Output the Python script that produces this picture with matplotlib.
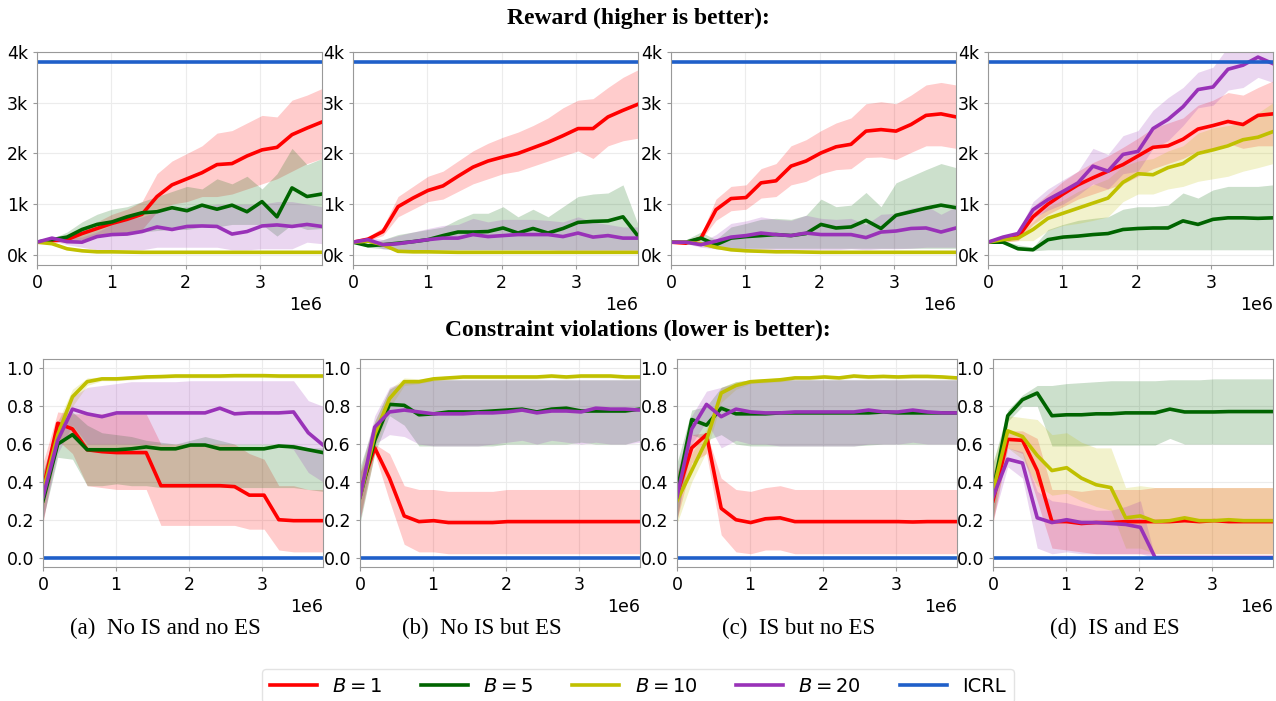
import numpy as np
import matplotlib
matplotlib.use("Agg")
import matplotlib.pyplot as plt
from matplotlib.ticker import FuncFormatter

# training steps (20 evaluation points)
steps = np.arange(20) * 202000

ICRL_REWARD = 3.8  # in k
ICRL_VIOL = 0.0

# ---------------- reward (in thousands) ----------------
# (a) No IS and no ES
ra_1 = [0.25, 0.28, 0.30, 0.42, 0.52, 0.62, 0.70, 0.80, 1.15, 1.38, 1.50, 1.62, 1.78, 1.80, 1.95, 2.07, 2.12, 2.37, 2.50, 2.62]
ra_1_lo = [0.25, 0.25, 0.25, 0.30, 0.35, 0.40, 0.45, 0.50, 0.85, 1.00, 1.05, 1.15, 1.15, 1.20, 1.30, 1.40, 1.50, 1.65, 1.80, 1.90]
ra_1_hi = [0.25, 0.30, 0.35, 0.50, 0.65, 0.80, 0.90, 1.05, 1.60, 1.85, 2.00, 2.15, 2.40, 2.45, 2.60, 2.75, 2.72, 3.05, 3.15, 3.28]
ra_5 = [0.25, 0.30, 0.35, 0.50, 0.60, 0.65, 0.75, 0.83, 0.85, 0.93, 0.87, 0.98, 0.90, 0.98, 0.85, 1.05, 0.75, 1.32, 1.15, 1.20]
ra_5_lo = [0.25, 0.28, 0.25, 0.30, 0.35, 0.40, 0.42, 0.45, 0.48, 0.50, 0.50, 0.55, 0.55, 0.60, 0.60, 0.60, 0.37, 0.60, 0.50, 0.52]
ra_5_hi = [0.25, 0.32, 0.45, 0.65, 0.80, 0.90, 0.95, 1.05, 1.15, 1.25, 1.35, 1.30, 1.50, 1.40, 1.55, 1.30, 1.60, 2.10, 1.78, 1.90]
ra_10 = [0.25, 0.22, 0.12, 0.08, 0.06, 0.06, 0.055, 0.05, 0.05, 0.05, 0.05, 0.05, 0.05, 0.05, 0.05, 0.05, 0.05, 0.05, 0.05, 0.05]
ra_10_lo = [0.25, 0.20, 0.10, 0.06, 0.04, 0.04, 0.04, 0.035, 0.035, 0.035, 0.035, 0.035, 0.035, 0.035, 0.035, 0.035, 0.035, 0.035, 0.035, 0.035]
ra_10_hi = [0.25, 0.24, 0.14, 0.10, 0.08, 0.075, 0.07, 0.065, 0.065, 0.065, 0.065, 0.065, 0.065, 0.065, 0.065, 0.065, 0.065, 0.065, 0.065, 0.065]
ra_20 = [0.25, 0.33, 0.26, 0.25, 0.36, 0.40, 0.41, 0.46, 0.55, 0.50, 0.56, 0.57, 0.56, 0.41, 0.46, 0.57, 0.59, 0.56, 0.60, 0.56]
ra_20_lo = [0.25, 0.28, 0.20, 0.15, 0.10, 0.10, 0.10, 0.10, 0.15, 0.15, 0.15, 0.15, 0.15, 0.10, 0.10, 0.12, 0.12, 0.12, 0.25, 0.22]
ra_20_hi = [0.25, 0.35, 0.35, 0.35, 0.45, 0.60, 0.70, 0.75, 0.85, 0.90, 0.95, 0.95, 1.00, 1.00, 1.00, 1.00, 1.05, 1.05, 1.00, 0.95]

# (b) No IS but ES
rb_1 = [0.25, 0.31, 0.46, 0.95, 1.12, 1.27, 1.36, 1.55, 1.73, 1.85, 1.93, 2.00, 2.11, 2.22, 2.35, 2.49, 2.49, 2.72, 2.85, 2.97]
rb_1_lo = [0.25, 0.28, 0.38, 0.75, 0.90, 1.05, 1.10, 1.25, 1.40, 1.50, 1.60, 1.65, 1.75, 1.85, 1.95, 2.05, 1.90, 2.15, 2.25, 2.30]
rb_1_hi = [0.25, 0.35, 0.55, 1.15, 1.35, 1.55, 1.65, 1.85, 2.05, 2.20, 2.32, 2.42, 2.55, 2.70, 2.90, 3.05, 3.08, 3.30, 3.50, 3.65]
rb_5 = [0.25, 0.18, 0.20, 0.23, 0.26, 0.30, 0.38, 0.45, 0.45, 0.46, 0.53, 0.43, 0.52, 0.43, 0.52, 0.64, 0.66, 0.67, 0.75, 0.37]
rb_5_lo = [0.25, 0.15, 0.12, 0.10, 0.10, 0.10, 0.10, 0.10, 0.10, 0.10, 0.10, 0.10, 0.10, 0.10, 0.10, 0.10, 0.10, 0.10, 0.10, 0.10]
rb_5_hi = [0.25, 0.22, 0.30, 0.40, 0.45, 0.50, 0.55, 0.70, 0.82, 0.82, 0.95, 0.75, 0.90, 0.75, 0.95, 1.15, 1.20, 1.22, 1.38, 0.60]
rb_10 = [0.25, 0.27, 0.20, 0.07, 0.06, 0.06, 0.055, 0.05, 0.05, 0.05, 0.05, 0.05, 0.05, 0.05, 0.05, 0.05, 0.05, 0.05, 0.05, 0.05]
rb_10_lo = [0.25, 0.25, 0.17, 0.05, 0.04, 0.04, 0.04, 0.035, 0.035, 0.035, 0.035, 0.035, 0.035, 0.035, 0.035, 0.035, 0.035, 0.035, 0.035, 0.035]
rb_10_hi = [0.25, 0.29, 0.23, 0.09, 0.08, 0.075, 0.07, 0.065, 0.065, 0.065, 0.065, 0.065, 0.065, 0.065, 0.065, 0.065, 0.065, 0.065, 0.065, 0.065]
rb_20 = [0.25, 0.30, 0.20, 0.22, 0.26, 0.30, 0.33, 0.33, 0.40, 0.36, 0.38, 0.40, 0.40, 0.40, 0.36, 0.43, 0.35, 0.38, 0.33, 0.33]
rb_20_lo = [0.25, 0.25, 0.12, 0.10, 0.10, 0.10, 0.10, 0.10, 0.10, 0.10, 0.10, 0.10, 0.10, 0.10, 0.08, 0.08, 0.08, 0.08, 0.08, 0.08]
rb_20_hi = [0.25, 0.35, 0.30, 0.38, 0.45, 0.52, 0.58, 0.60, 0.72, 0.65, 0.70, 0.70, 0.70, 0.68, 0.65, 0.75, 0.65, 0.60, 0.55, 0.55]

# (c) IS but no ES
rc_1 = [0.25, 0.23, 0.33, 0.89, 1.11, 1.13, 1.42, 1.46, 1.75, 1.85, 2.01, 2.13, 2.18, 2.44, 2.47, 2.44, 2.57, 2.75, 2.78, 2.72]
rc_1_lo = [0.25, 0.22, 0.30, 0.68, 0.87, 0.90, 1.12, 1.15, 1.38, 1.45, 1.60, 1.68, 1.70, 1.92, 1.93, 1.88, 2.02, 2.15, 2.15, 2.10]
rc_1_hi = [0.25, 0.25, 0.40, 1.10, 1.35, 1.38, 1.70, 1.80, 2.15, 2.27, 2.45, 2.60, 2.70, 2.98, 3.02, 2.98, 3.15, 3.35, 3.40, 3.35]
rc_5 = [0.25, 0.25, 0.33, 0.20, 0.33, 0.36, 0.38, 0.40, 0.38, 0.42, 0.60, 0.53, 0.55, 0.68, 0.52, 0.78, 0.85, 0.92, 0.98, 0.93]
rc_5_lo = [0.25, 0.22, 0.20, 0.12, 0.12, 0.13, 0.13, 0.13, 0.13, 0.13, 0.13, 0.13, 0.13, 0.13, 0.13, 0.13, 0.13, 0.13, 0.13, 0.13]
rc_5_hi = [0.25, 0.30, 0.45, 0.30, 0.55, 0.62, 0.70, 0.72, 0.70, 0.78, 1.10, 0.95, 0.98, 1.23, 0.95, 1.42, 1.55, 1.68, 1.80, 1.72]
rc_10 = [0.25, 0.25, 0.22, 0.15, 0.10, 0.08, 0.07, 0.06, 0.06, 0.055, 0.05, 0.05, 0.05, 0.05, 0.05, 0.05, 0.05, 0.05, 0.05, 0.05]
rc_10_lo = [0.25, 0.23, 0.19, 0.12, 0.08, 0.06, 0.05, 0.045, 0.045, 0.04, 0.035, 0.035, 0.035, 0.035, 0.035, 0.035, 0.035, 0.035, 0.035, 0.035]
rc_10_hi = [0.25, 0.27, 0.25, 0.18, 0.12, 0.10, 0.09, 0.075, 0.075, 0.07, 0.065, 0.065, 0.065, 0.065, 0.065, 0.065, 0.065, 0.065, 0.065, 0.065]
rc_20 = [0.25, 0.25, 0.20, 0.27, 0.35, 0.38, 0.43, 0.40, 0.38, 0.43, 0.40, 0.40, 0.40, 0.34, 0.45, 0.47, 0.52, 0.53, 0.45, 0.53]
rc_20_lo = [0.25, 0.22, 0.15, 0.12, 0.10, 0.10, 0.10, 0.10, 0.10, 0.10, 0.10, 0.10, 0.12, 0.10, 0.12, 0.12, 0.13, 0.15, 0.15, 0.15]
rc_20_hi = [0.25, 0.28, 0.25, 0.40, 0.62, 0.67, 0.75, 0.70, 0.68, 0.78, 0.72, 0.70, 0.72, 0.60, 0.80, 0.82, 0.92, 0.97, 0.80, 0.95]

# (d) IS and ES
rd_1 = [0.25, 0.30, 0.35, 0.75, 1.00, 1.20, 1.38, 1.52, 1.65, 1.78, 1.95, 2.12, 2.15, 2.28, 2.48, 2.55, 2.63, 2.57, 2.75, 2.78]
rd_1_lo = [0.25, 0.25, 0.28, 0.60, 0.80, 0.95, 1.10, 1.20, 1.30, 1.40, 1.55, 1.70, 1.80, 1.90, 2.05, 2.10, 2.20, 2.10, 2.15, 2.15]
rd_1_hi = [0.25, 0.35, 0.42, 0.95, 1.20, 1.45, 1.65, 1.82, 1.95, 2.12, 2.30, 2.50, 2.60, 2.70, 2.95, 3.05, 3.20, 3.15, 3.30, 3.43]
rd_5 = [0.25, 0.25, 0.12, 0.10, 0.30, 0.35, 0.37, 0.40, 0.42, 0.50, 0.52, 0.53, 0.53, 0.67, 0.60, 0.70, 0.73, 0.73, 0.72, 0.73]
rd_5_lo = [0.25, 0.22, 0.10, 0.08, 0.10, 0.10, 0.10, 0.10, 0.10, 0.10, 0.10, 0.10, 0.10, 0.10, 0.10, 0.10, 0.10, 0.10, 0.10, 0.10]
rd_5_hi = [0.25, 0.28, 0.20, 0.15, 0.50, 0.60, 0.68, 0.72, 0.75, 0.90, 0.95, 0.95, 0.98, 1.22, 1.12, 1.28, 1.35, 1.35, 1.35, 1.38]
rd_10 = [0.25, 0.30, 0.33, 0.50, 0.72, 0.82, 0.92, 1.02, 1.12, 1.43, 1.60, 1.58, 1.72, 1.80, 2.00, 2.07, 2.15, 2.27, 2.32, 2.43]
rd_10_lo = [0.25, 0.25, 0.28, 0.28, 0.48, 0.58, 0.62, 0.68, 0.75, 1.05, 1.20, 1.20, 1.30, 1.35, 1.45, 1.50, 1.55, 1.65, 1.72, 1.80]
rd_10_hi = [0.25, 0.38, 0.40, 0.65, 0.95, 1.08, 1.25, 1.38, 1.50, 1.75, 1.85, 1.90, 2.05, 2.15, 2.40, 2.50, 2.55, 2.60, 2.80, 3.00]
rd_20 = [0.25, 0.35, 0.42, 0.89, 1.09, 1.25, 1.42, 1.75, 1.65, 1.98, 2.04, 2.49, 2.67, 2.92, 3.26, 3.31, 3.66, 3.74, 3.90, 3.77]
rd_20_lo = [0.25, 0.30, 0.38, 0.72, 0.88, 1.00, 1.18, 1.40, 1.30, 1.60, 1.65, 2.10, 2.25, 2.55, 2.90, 2.95, 3.25, 3.30, 3.50, 3.40]
rd_20_hi = [0.25, 0.38, 0.45, 1.05, 1.30, 1.48, 1.65, 2.10, 1.98, 2.35, 2.45, 2.85, 3.10, 3.30, 3.60, 3.70, 4.10, 4.20, 4.30, 4.30]

# ---------------- constraint violations ----------------
# (a)
va_1 = [0.36, 0.71, 0.68, 0.57, 0.56, 0.555, 0.555, 0.555, 0.38, 0.38, 0.38, 0.38, 0.38, 0.375, 0.33, 0.33, 0.20, 0.195, 0.195, 0.195]
va_1_lo = [0.18, 0.62, 0.55, 0.38, 0.37, 0.36, 0.36, 0.36, 0.17, 0.17, 0.17, 0.17, 0.17, 0.17, 0.15, 0.15, 0.04, 0.03, 0.03, 0.03]
va_1_hi = [0.50, 0.77, 0.76, 0.76, 0.76, 0.76, 0.76, 0.76, 0.60, 0.60, 0.60, 0.60, 0.60, 0.60, 0.55, 0.52, 0.38, 0.38, 0.36, 0.36]
va_5 = [0.30, 0.60, 0.65, 0.57, 0.57, 0.57, 0.575, 0.585, 0.575, 0.575, 0.595, 0.595, 0.575, 0.575, 0.575, 0.575, 0.59, 0.585, 0.57, 0.555]
va_5_lo = [0.20, 0.53, 0.52, 0.38, 0.38, 0.39, 0.38, 0.38, 0.37, 0.37, 0.37, 0.37, 0.37, 0.37, 0.37, 0.37, 0.37, 0.37, 0.36, 0.35]
va_5_hi = [0.45, 0.70, 0.77, 0.70, 0.66, 0.65, 0.64, 0.62, 0.61, 0.60, 0.62, 0.64, 0.62, 0.60, 0.60, 0.60, 0.60, 0.60, 0.58, 0.58]
va_10 = [0.35, 0.65, 0.85, 0.93, 0.945, 0.945, 0.95, 0.955, 0.957, 0.96, 0.96, 0.96, 0.96, 0.962, 0.962, 0.962, 0.96, 0.96, 0.96, 0.96]
va_10_lo = [0.25, 0.58, 0.80, 0.91, 0.935, 0.935, 0.94, 0.945, 0.947, 0.95, 0.95, 0.95, 0.95, 0.952, 0.952, 0.952, 0.95, 0.95, 0.95, 0.95]
va_10_hi = [0.45, 0.72, 0.89, 0.95, 0.955, 0.955, 0.96, 0.965, 0.967, 0.97, 0.97, 0.97, 0.97, 0.972, 0.972, 0.972, 0.97, 0.97, 0.97, 0.97]
va_20 = [0.32, 0.62, 0.785, 0.76, 0.745, 0.765, 0.765, 0.765, 0.765, 0.765, 0.765, 0.765, 0.79, 0.76, 0.765, 0.765, 0.765, 0.77, 0.66, 0.595]
va_20_lo = [0.20, 0.55, 0.70, 0.60, 0.60, 0.60, 0.60, 0.60, 0.60, 0.60, 0.60, 0.60, 0.60, 0.60, 0.60, 0.60, 0.60, 0.57, 0.45, 0.40]
va_20_hi = [0.45, 0.72, 0.85, 0.90, 0.91, 0.92, 0.93, 0.93, 0.93, 0.93, 0.935, 0.935, 0.935, 0.935, 0.935, 0.935, 0.935, 0.935, 0.83, 0.80]

# (b)
vb_1 = [0.35, 0.58, 0.42, 0.22, 0.19, 0.195, 0.185, 0.185, 0.185, 0.185, 0.19, 0.19, 0.19, 0.19, 0.19, 0.19, 0.19, 0.19, 0.19, 0.19]
vb_1_lo = [0.20, 0.55, 0.30, 0.07, 0.03, 0.03, 0.02, 0.02, 0.02, 0.02, 0.02, 0.02, 0.02, 0.02, 0.02, 0.02, 0.02, 0.02, 0.02, 0.02]
vb_1_hi = [0.45, 0.60, 0.55, 0.38, 0.36, 0.36, 0.35, 0.35, 0.35, 0.35, 0.36, 0.36, 0.36, 0.36, 0.36, 0.36, 0.36, 0.36, 0.36, 0.36]
vb_5 = [0.32, 0.62, 0.81, 0.805, 0.755, 0.76, 0.77, 0.77, 0.77, 0.775, 0.78, 0.785, 0.77, 0.785, 0.79, 0.775, 0.775, 0.775, 0.775, 0.785]
vb_5_lo = [0.18, 0.55, 0.75, 0.70, 0.59, 0.59, 0.59, 0.59, 0.59, 0.59, 0.60, 0.60, 0.60, 0.60, 0.60, 0.61, 0.60, 0.60, 0.60, 0.62]
vb_5_hi = [0.48, 0.72, 0.89, 0.93, 0.93, 0.94, 0.94, 0.94, 0.94, 0.94, 0.94, 0.94, 0.94, 0.94, 0.94, 0.94, 0.94, 0.94, 0.94, 0.94]
vb_10 = [0.32, 0.65, 0.84, 0.93, 0.93, 0.945, 0.95, 0.955, 0.955, 0.955, 0.955, 0.955, 0.955, 0.96, 0.955, 0.96, 0.96, 0.96, 0.955, 0.955]
vb_10_lo = [0.22, 0.58, 0.79, 0.91, 0.92, 0.935, 0.94, 0.945, 0.945, 0.945, 0.945, 0.945, 0.945, 0.95, 0.945, 0.95, 0.95, 0.95, 0.945, 0.945]
vb_10_hi = [0.45, 0.72, 0.89, 0.95, 0.945, 0.955, 0.96, 0.965, 0.965, 0.965, 0.965, 0.965, 0.965, 0.97, 0.965, 0.97, 0.97, 0.97, 0.965, 0.965]
vb_20 = [0.32, 0.69, 0.77, 0.78, 0.77, 0.76, 0.76, 0.76, 0.765, 0.765, 0.77, 0.78, 0.765, 0.775, 0.775, 0.77, 0.79, 0.785, 0.785, 0.78]
vb_20_lo = [0.20, 0.60, 0.65, 0.64, 0.60, 0.59, 0.59, 0.59, 0.59, 0.60, 0.61, 0.62, 0.60, 0.62, 0.61, 0.60, 0.61, 0.60, 0.60, 0.61]
vb_20_hi = [0.45, 0.75, 0.90, 0.93, 0.93, 0.94, 0.94, 0.94, 0.94, 0.94, 0.94, 0.94, 0.94, 0.94, 0.94, 0.94, 0.94, 0.94, 0.94, 0.94]

# (c)
vc_1 = [0.33, 0.58, 0.65, 0.26, 0.20, 0.185, 0.205, 0.21, 0.19, 0.19, 0.19, 0.19, 0.19, 0.19, 0.19, 0.19, 0.188, 0.19, 0.19, 0.19]
vc_1_lo = [0.20, 0.50, 0.55, 0.12, 0.03, 0.02, 0.04, 0.04, 0.02, 0.02, 0.02, 0.02, 0.02, 0.02, 0.02, 0.02, 0.02, 0.02, 0.02, 0.02]
vc_1_hi = [0.45, 0.65, 0.66, 0.42, 0.36, 0.35, 0.37, 0.38, 0.36, 0.36, 0.36, 0.36, 0.36, 0.36, 0.36, 0.36, 0.36, 0.36, 0.36, 0.36]
vc_5 = [0.35, 0.73, 0.70, 0.79, 0.76, 0.76, 0.76, 0.765, 0.765, 0.765, 0.765, 0.765, 0.765, 0.765, 0.77, 0.765, 0.765, 0.765, 0.765, 0.765]
vc_5_lo = [0.20, 0.65, 0.62, 0.65, 0.60, 0.59, 0.59, 0.59, 0.59, 0.59, 0.59, 0.59, 0.59, 0.595, 0.60, 0.60, 0.60, 0.60, 0.60, 0.60]
vc_5_hi = [0.50, 0.78, 0.80, 0.90, 0.93, 0.94, 0.94, 0.94, 0.94, 0.94, 0.94, 0.94, 0.94, 0.94, 0.94, 0.94, 0.94, 0.94, 0.94, 0.94]
vc_10 = [0.30, 0.46, 0.62, 0.87, 0.91, 0.93, 0.935, 0.94, 0.95, 0.95, 0.955, 0.95, 0.96, 0.955, 0.958, 0.955, 0.958, 0.958, 0.955, 0.95]
vc_10_lo = [0.18, 0.40, 0.56, 0.82, 0.89, 0.92, 0.925, 0.93, 0.94, 0.94, 0.945, 0.94, 0.95, 0.945, 0.948, 0.945, 0.948, 0.948, 0.945, 0.94]
vc_10_hi = [0.45, 0.55, 0.68, 0.90, 0.93, 0.94, 0.945, 0.95, 0.96, 0.96, 0.965, 0.96, 0.97, 0.965, 0.968, 0.965, 0.968, 0.968, 0.965, 0.96]
vc_20 = [0.32, 0.68, 0.81, 0.745, 0.785, 0.77, 0.765, 0.765, 0.77, 0.77, 0.77, 0.77, 0.77, 0.78, 0.77, 0.77, 0.78, 0.77, 0.765, 0.765]
vc_20_lo = [0.20, 0.60, 0.72, 0.58, 0.62, 0.60, 0.60, 0.59, 0.59, 0.59, 0.59, 0.59, 0.59, 0.60, 0.60, 0.60, 0.61, 0.60, 0.60, 0.60]
vc_20_hi = [0.45, 0.75, 0.88, 0.90, 0.92, 0.93, 0.935, 0.94, 0.94, 0.94, 0.94, 0.94, 0.94, 0.94, 0.94, 0.94, 0.94, 0.94, 0.94, 0.94]

# (d)
vd_1 = [0.30, 0.625, 0.62, 0.46, 0.19, 0.19, 0.18, 0.185, 0.185, 0.19, 0.19, 0.19, 0.19, 0.195, 0.19, 0.195, 0.19, 0.19, 0.19, 0.19]
vd_1_lo = [0.18, 0.58, 0.55, 0.30, 0.05, 0.04, 0.03, 0.02, 0.02, 0.02, 0.02, 0.02, 0.02, 0.02, 0.02, 0.02, 0.02, 0.02, 0.02, 0.02]
vd_1_hi = [0.45, 0.67, 0.67, 0.63, 0.36, 0.36, 0.35, 0.36, 0.36, 0.36, 0.36, 0.37, 0.37, 0.37, 0.37, 0.37, 0.37, 0.37, 0.37, 0.37]
vd_5 = [0.35, 0.75, 0.835, 0.87, 0.75, 0.755, 0.755, 0.76, 0.76, 0.765, 0.765, 0.765, 0.785, 0.77, 0.77, 0.77, 0.772, 0.772, 0.772, 0.772]
vd_5_lo = [0.20, 0.72, 0.80, 0.80, 0.59, 0.59, 0.59, 0.595, 0.595, 0.595, 0.595, 0.595, 0.63, 0.60, 0.60, 0.60, 0.60, 0.60, 0.60, 0.60]
vd_5_hi = [0.50, 0.78, 0.86, 0.91, 0.91, 0.92, 0.925, 0.93, 0.935, 0.935, 0.935, 0.935, 0.94, 0.94, 0.94, 0.945, 0.945, 0.945, 0.945, 0.945]
vd_10 = [0.35, 0.67, 0.64, 0.54, 0.46, 0.475, 0.42, 0.385, 0.37, 0.21, 0.22, 0.19, 0.195, 0.21, 0.195, 0.195, 0.20, 0.195, 0.195, 0.195]
vd_10_lo = [0.20, 0.58, 0.52, 0.38, 0.33, 0.34, 0.30, 0.27, 0.25, 0.05, 0.05, 0.02, 0.02, 0.02, 0.02, 0.02, 0.02, 0.02, 0.02, 0.02]
vd_10_hi = [0.50, 0.75, 0.74, 0.73, 0.65, 0.66, 0.61, 0.58, 0.58, 0.37, 0.38, 0.37, 0.37, 0.37, 0.37, 0.37, 0.37, 0.37, 0.37, 0.37]
vd_20 = [0.32, 0.52, 0.50, 0.21, 0.185, 0.20, 0.185, 0.185, 0.18, 0.175, 0.16, 0.0, 0.0, 0.0, 0.0, 0.0, 0.0, 0.0, 0.0, 0.0]
vd_20_lo = [0.20, 0.48, 0.42, 0.05, 0.02, 0.03, 0.02, 0.02, 0.02, 0.02, 0.02, 0.0, 0.0, 0.0, 0.0, 0.0, 0.0, 0.0, 0.0, 0.0]
vd_20_hi = [0.45, 0.58, 0.56, 0.35, 0.30, 0.29, 0.27, 0.25, 0.25, 0.27, 0.30, 0.0, 0.0, 0.0, 0.0, 0.0, 0.0, 0.0, 0.0, 0.0]

labels = ["$B=1$", "$B=5$", "$B=10$", "$B=20$"]
colors = ["#ff0000", "#006400", "#c0c000", "#9932b8"]
icrl_color = "#1f5fc9"
captions = ["(a)  No IS and no ES", "(b)  No IS but ES", "(c)  IS but no ES", "(d)  IS and ES"]

reward_panels = [
    [(ra_1, ra_1_lo, ra_1_hi), (ra_5, ra_5_lo, ra_5_hi), (ra_10, ra_10_lo, ra_10_hi), (ra_20, ra_20_lo, ra_20_hi)],
    [(rb_1, rb_1_lo, rb_1_hi), (rb_5, rb_5_lo, rb_5_hi), (rb_10, rb_10_lo, rb_10_hi), (rb_20, rb_20_lo, rb_20_hi)],
    [(rc_1, rc_1_lo, rc_1_hi), (rc_5, rc_5_lo, rc_5_hi), (rc_10, rc_10_lo, rc_10_hi), (rc_20, rc_20_lo, rc_20_hi)],
    [(rd_1, rd_1_lo, rd_1_hi), (rd_5, rd_5_lo, rd_5_hi), (rd_10, rd_10_lo, rd_10_hi), (rd_20, rd_20_lo, rd_20_hi)],
]
viol_panels = [
    [(va_1, va_1_lo, va_1_hi), (va_5, va_5_lo, va_5_hi), (va_10, va_10_lo, va_10_hi), (va_20, va_20_lo, va_20_hi)],
    [(vb_1, vb_1_lo, vb_1_hi), (vb_5, vb_5_lo, vb_5_hi), (vb_10, vb_10_lo, vb_10_hi), (vb_20, vb_20_lo, vb_20_hi)],
    [(vc_1, vc_1_lo, vc_1_hi), (vc_5, vc_5_lo, vc_5_hi), (vc_10, vc_10_lo, vc_10_hi), (vc_20, vc_20_lo, vc_20_hi)],
    [(vd_1, vd_1_lo, vd_1_hi), (vd_5, vd_5_lo, vd_5_hi), (vd_10, vd_10_lo, vd_10_hi), (vd_20, vd_20_lo, vd_20_hi)],
]

W, H = 1276, 701
fig = plt.figure(figsize=(W / 100, H / 100), dpi=100)


def px_axes(left, top, width, height):
    return fig.add_axes([left / W, 1 - (top + height) / H, width / W, height / H])


def style_axes(ax):
    ax.grid(True, color="#ececec", linewidth=0.8)
    ax.set_axisbelow(True)
    for s in ax.spines.values():
        s.set_color("#999999")
        s.set_linewidth(0.8)
    ax.tick_params(labelsize=12.5, length=3, color="#999999")
    ax.xaxis.get_offset_text().set_fontsize(12.5)
    ax.set_xlim(0, steps[-1])
    ax.set_xticks([0, 1e6, 2e6, 3e6])


def draw(ax, series, icrl):
    for (m, lo, hi), c in zip(series, colors):
        ax.fill_between(steps, lo, hi, color=c, alpha=0.2, linewidth=0)
    for (m, lo, hi), c, lab in zip(series, colors, labels):
        ax.plot(steps, m, color=c, lw=2.6, label=lab)
    ax.axhline(icrl, color=icrl_color, lw=2.6, label="ICRL")


top_lefts = [37, 353, 671, 988]
bot_lefts = [43, 360, 677, 993]

for i in range(4):
    ax = px_axes(top_lefts[i], 52, 285, 213)
    draw(ax, reward_panels[i], ICRL_REWARD)
    ax.set_ylim(-0.2, 4.0)
    ax.set_yticks([0, 1, 2, 3, 4])
    ax.yaxis.set_major_formatter(FuncFormatter(lambda v, p: "%dk" % round(v)))
    style_axes(ax)

    ax2 = px_axes(bot_lefts[i], 359, 280, 208)
    draw(ax2, viol_panels[i], ICRL_VIOL)
    ax2.set_ylim(-0.05, 1.05)
    ax2.set_yticks([0, 0.2, 0.4, 0.6, 0.8, 1.0])
    ax2.yaxis.set_major_formatter(FuncFormatter(lambda v, p: "%.1f" % v))
    style_axes(ax2)
    fig.text((bot_lefts[i] + 122) / W, 1 - 628 / H, captions[i], ha="center", va="center",
             family="Liberation Serif", fontsize=16.5)
    if i == 0:
        handles, labs = ax2.get_legend_handles_labels()

fig.text(0.5, 1 - 18 / H, "Reward (higher is better):", ha="center", va="center",
         family="Liberation Serif", fontweight="bold", fontsize=17)
fig.text(0.5, 1 - 330 / H, "Constraint violations (lower is better):", ha="center", va="center",
         family="Liberation Serif", fontweight="bold", fontsize=17)

fig.legend(handles, labs, loc="center", bbox_to_anchor=(0.5, 1 - 686 / H), ncol=5,
           fontsize=14, handlelength=2.4, columnspacing=2.0, frameon=True, edgecolor="#dddddd")

fig.savefig("out.png", dpi=100)
